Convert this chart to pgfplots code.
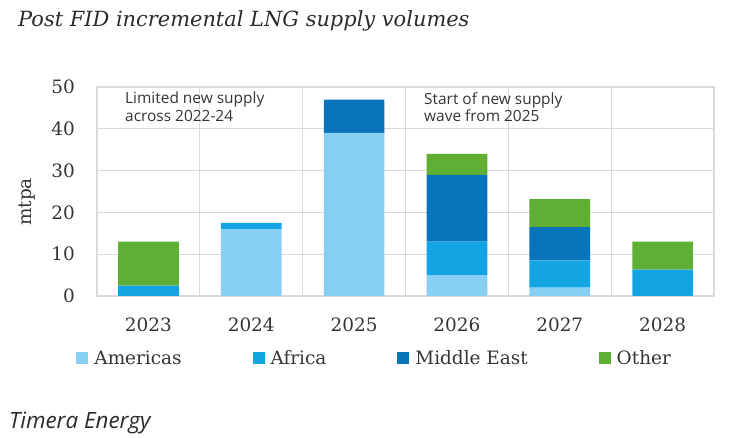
\documentclass[border=0pt]{standalone}
\usepackage{pgfplots}
\pgfplotsset{compat=1.18}
\usepackage{fontspec}
\setmainfont{DejaVu Serif}
\newfontfamily\opensans{Open Sans}
\definecolor{cAm}{HTML}{88CFF4}
\definecolor{cAf}{HTML}{12A4E3}
\definecolor{cME}{HTML}{0A74BA}
\definecolor{cOt}{HTML}{5EAF34}
\definecolor{gridc}{HTML}{DADADA}
\definecolor{tickc}{HTML}{353535}
\definecolor{titlec}{HTML}{2B2B2B}
\begin{document}
\begin{tikzpicture}[x=1bp,y=1bp]
\path[use as bounding box] (0,0) rectangle (730,438);
\begin{axis}[
  at={(97bp,142bp)}, anchor=south west,
  scale only axis, width=617bp, height=209bp,
  ybar stacked, bar width=0.59,
  xmin=-0.5, xmax=5.5, ymin=0, ymax=50,
  xtick={0,1,2,3,4,5},
  xticklabels={2023,2024,2025,2026,2027,2028},
  ytick={0,10,20,30,40,50},
  minor xtick={0.5,1.5,2.5,3.5,4.5},
  ymajorgrids, xminorgrids,
  grid style={draw=gridc, line width=1.2bp},
  minor grid style={draw=gridc, line width=1.2bp},
  axis line style={draw=gridc, line width=1.2bp},
  major tick length=0pt, minor tick length=0pt,
  /pgf/number format/assume math mode=true,
  tick label style={font=\fontsize{18.5}{20}\selectfont, text=tickc},
  xticklabel style={inner sep=0pt, anchor=north, yshift=-22bp},
  yticklabel style={inner sep=0pt, anchor=east, xshift=-22bp},
  ylabel={mtpa},
  ylabel style={at={(axis description cs:-0.1135,0.45)}, anchor=center, font=\fontsize{18.5}{20}\selectfont, text=tickc},
  legend columns=4,
  legend style={at={(axis description cs:0.4500,-0.2967)}, anchor=center, draw=none, fill=none,
    font=\fontsize{18.5}{20}\selectfont, text=tickc,
    /tikz/every odd column/.append style={column sep=4bp},
    /tikz/every even column/.append style={column sep=69bp}},
  legend image code/.code={\fill[#1] (0bp,-6bp) rectangle (12bp,6bp);},
]
\addplot[fill=cAm, draw=none] coordinates {(0,0) (1,16) (2,39) (3,5) (4,2) (5,0)};
\addlegendentry{Americas}
\addplot[fill=cAf, draw=none] coordinates {(0,2.5) (1,1.5) (2,0) (3,8) (4,6.5) (5,6.3)};
\addlegendentry{Africa}
\addplot[fill=cME, draw=none] coordinates {(0,0) (1,0) (2,8) (3,16) (4,8) (5,0)};
\addlegendentry{Middle East}
\addplot[fill=cOt, draw=none] coordinates {(0,10.5) (1,0) (2,0) (3,5) (4,6.7) (5,6.7)};
\addlegendentry{Other}
\end{axis}
\node[anchor=north west, inner sep=0pt, align=left, font=\opensans\fontsize{15.5}{18}\selectfont, text=tickc] at (125,346) {Limited new supply\\across 2022-24};
\node[anchor=north west, inner sep=0pt, align=left, font=\opensans\fontsize{15.5}{18}\selectfont, text=tickc] at (424,346) {Start of new supply\\wave from 2025};
\node[anchor=base west, inner sep=0pt, font=\itshape\fontsize{21}{24}\selectfont, text=titlec] at (18,411) {Post FID incremental LNG supply volumes};
\node[anchor=base west, inner sep=0pt, font=\opensans\itshape\fontsize{22.5}{24}\selectfont, text=titlec] at (9,9) {Timera Energy};
\end{tikzpicture}
\end{document}
